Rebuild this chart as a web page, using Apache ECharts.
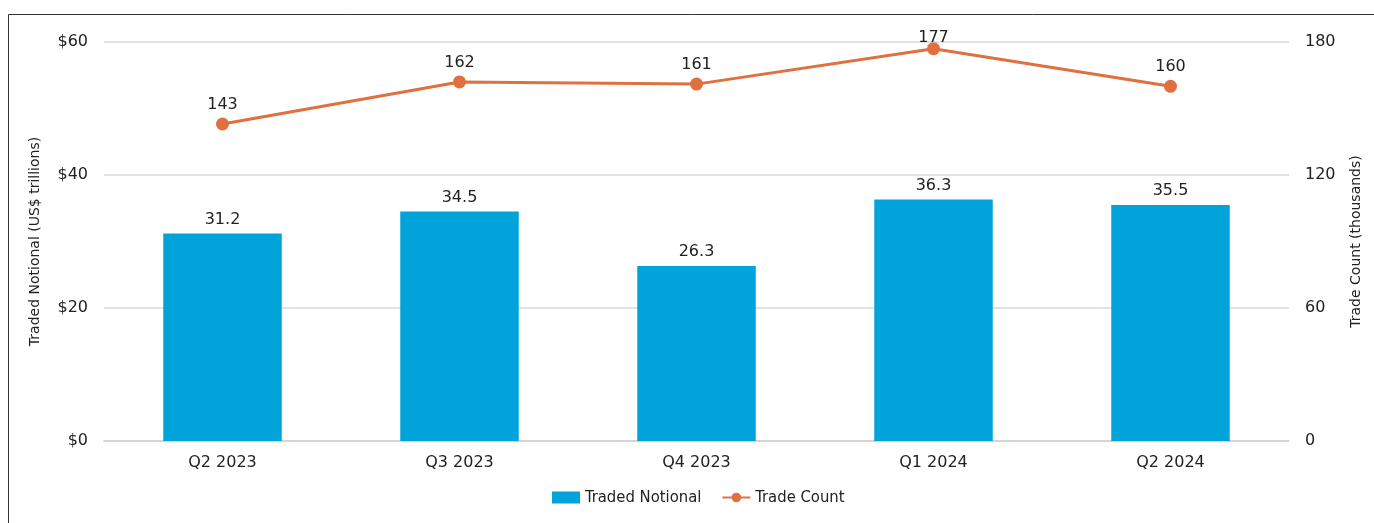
<!DOCTYPE html>
<html><head><meta charset="utf-8">
<script src="https://cdn.jsdelivr.net/npm/echarts@6/dist/echarts.min.js"></script>
<style>html,body{margin:0;padding:0;background:#fff}#c{width:1374px;height:523px}</style>
</head><body><div id="c"></div>
<script>
const categories = ['Q2 2023','Q3 2023','Q4 2023','Q1 2024','Q2 2024'];
const tradedNotional = [31.2, 34.5, 26.3, 36.3, 35.5];
const tradeCount = [143, 162, 161, 177, 160];
const FONT = 'DejaVu Sans';
const chart = echarts.init(document.getElementById('c'), null, {renderer:'canvas'});
// the highest point's label sits tight on the marker (chart top clipping in the original)
const countData = tradeCount.map((v, i) => i === 3 ? {value: v, label: {distance: -4}} : v);
chart.setOption({
  backgroundColor:'#fff',
  animation:false,
  textStyle:{fontFamily:FONT},
  graphic:[{type:'rect', shape:{x:8.5,y:14.5,width:1400,height:600}, style:{fill:null, stroke:'#333', lineWidth:1}, silent:true}],
  grid:{left:104, right:85, top:42, bottom:82},
  legend:{top:484, left:547, itemGap:20, itemWidth:28, itemHeight:12,
    textStyle:{fontFamily:'DejaVu Sans Condensed', fontSize:16.5, color:'#222'},
    data:[{name:'Traded Notional', icon:'rect', itemStyle:{}},{name:'Trade Count'}]},
  xAxis:{type:'category', data:categories,
    axisLine:{lineStyle:{color:'#d0d0d0', width:1.5}}, axisTick:{show:false},
    axisLabel:{fontFamily:FONT, fontSize:16, color:'#222', margin:14}},
  yAxis:[
    {type:'value', min:0, max:60, interval:20, name:'Traded Notional (US$ trillions)',
     nameLocation:'middle', nameGap:62, nameRotate:90,
     nameTextStyle:{fontFamily:FONT, fontSize:14, color:'#222'},
     axisLabel:{formatter:'${value}', fontFamily:FONT, fontSize:16, color:'#222', margin:16},
     splitLine:{lineStyle:{color:'#d9d9d9', width:1.5}}, axisLine:{show:false}, axisTick:{show:false}},
    {type:'value', min:0, max:180, interval:60, name:'Trade Count (thousands)',
     nameLocation:'middle', nameGap:60, nameRotate:90,
     nameTextStyle:{fontFamily:FONT, fontSize:14, color:'#222'},
     axisLabel:{fontFamily:FONT, fontSize:16, color:'#222', margin:16},
     splitLine:{show:false}, axisLine:{show:false}, axisTick:{show:false}}
  ],
  series:[
    {name:'Traded Notional', type:'bar', data:tradedNotional, barWidth:'50%',
     itemStyle:{color:'#00A3DA'},
     label:{show:true, position:'top', distance:6, fontFamily:FONT, fontSize:16, color:'#222'}},
    {name:'Trade Count', type:'line', yAxisIndex:1, data:countData,
     symbol:'circle', symbolSize:13,
     lineStyle:{color:'#E0703F', width:3}, itemStyle:{color:'#E0703F'},
     label:{show:true, position:'top', distance:5, fontFamily:FONT, fontSize:16, color:'#222'}}
  ]
});
</script></body></html>
